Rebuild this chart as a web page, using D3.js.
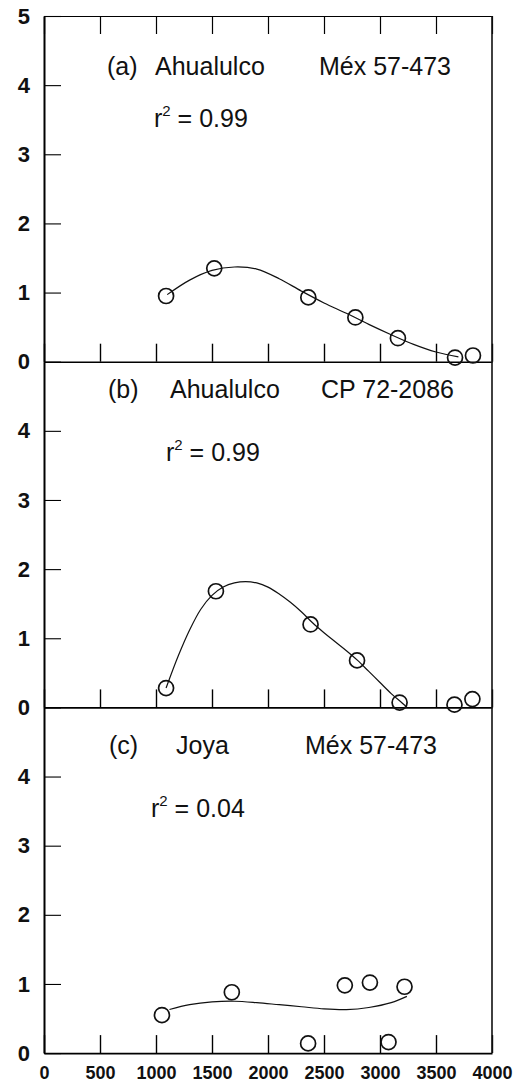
<!DOCTYPE html>
<html>
<head>
<meta charset="utf-8">
<script src="https://cdn.jsdelivr.net/npm/d3@7"></script>
<style>
  body { margin: 0; background: #fff; }
  text { font-family: "Liberation Sans", Arial, sans-serif; fill: #111; }
</style>
</head>
<body>
<script>
// elevation (m) on x, value on y, one set per panel
var xTicks = [0, 500, 1000, 1500, 2000, 2500, 3000, 3500, 4000];

var aX = [1090, 1520, 2360, 2780, 3160, 3670, 3830];
var aY = [0.95, 1.35, 0.93, 0.64, 0.34, 0.06, 0.09];
var aFitX = [1100, 1300, 1500, 1700, 1900, 2100, 2300, 2500, 2700, 2900, 3100, 3300, 3500, 3700];
var aFitY = [0.97, 1.18, 1.32, 1.37, 1.34, 1.2, 1.02, 0.85, 0.7, 0.54, 0.39, 0.25, 0.14, 0.07];

var bX = [1090, 1535, 2380, 2795, 3175, 3665, 3825];
var bY = [0.28, 1.68, 1.2, 0.68, 0.07, 0.04, 0.12];
var bFitX = [1090, 1200, 1300, 1400, 1500, 1600, 1700, 1800, 1900, 2000, 2100, 2200, 2300, 2400, 2500, 2600, 2700, 2800, 2900, 3000, 3100, 3200, 3240];
var bFitY = [0.28, 0.75, 1.12, 1.42, 1.62, 1.74, 1.8, 1.82, 1.8, 1.74, 1.64, 1.52, 1.38, 1.22, 1.08, 0.95, 0.82, 0.68, 0.52, 0.36, 0.2, 0.06, 0];

var cX = [1053, 1677, 2358, 2686, 2910, 3076, 3219];
var cY = [0.55, 0.88, 0.14, 0.98, 1.02, 0.16, 0.96];
var cFitX = [1120, 1300, 1500, 1700, 1900, 2100, 2300, 2500, 2700, 2900, 3100, 3240];
var cFitY = [0.63, 0.7, 0.74, 0.75, 0.73, 0.7, 0.67, 0.64, 0.63, 0.66, 0.73, 0.82];

var tags = ["(a)", "(b)", "(c)"];
var sites = ["Ahualulco", "Ahualulco", "Joya"];
var cultivars = ["Méx 57-473", "CP 72-2086", "Méx 57-473"];
var r2 = ["0.99", "0.99", "0.04"];

var w = 532, h = 1087;
var left = 44, right = 492, top0 = 16, ph = 345.7;

var svg = d3.select("body").append("svg")
            .attr("width", w)
            .attr("height", h);

var x = d3.scaleLinear().domain([0, 4000]).range([left, right]);

var panels = [
  {px: aX, py: aY, fx: aFitX, fy: aFitY, yt: [0, 1, 2, 3, 4, 5], t1: 59, t2: 111, xs: [107, 155, 319], rx: 154},
  {px: bX, py: bY, fx: bFitX, fy: bFitY, yt: [0, 1, 2, 3, 4], t1: 36, t2: 99, xs: [108, 170, 321], rx: 166},
  {px: cX, py: cY, fx: cFitX, fy: cFitY, yt: [0, 1, 2, 3, 4], t1: 47, t2: 110, xs: [109, 176, 305], rx: 151}
];

panels.forEach(function(p, i) {
  var top = top0 + i * ph;
  var bottom = top + ph;
  var y = d3.scaleLinear().domain([0, 5]).range([bottom, top]);
  var g = svg.append("g");

  // left axis, ticks pointing in
  var ya = g.append("g")
            .attr("transform", "translate(" + left + ",0)")
            .call(d3.axisLeft(y).tickValues(p.yt).tickFormat(d3.format("d"))
                    .tickSize(-17).tickSizeOuter(0).tickPadding(14));
  ya.select(".domain").attr("stroke-width", 2);
  ya.selectAll(".tick line").attr("stroke-width", 1.1);
  ya.selectAll("text").attr("font-size", 22).attr("font-weight", "bold")
    .style("font-family", "Liberation Sans, Arial, sans-serif");

  // bottom axis, ticks pointing up
  var xa = g.append("g")
            .attr("transform", "translate(0," + bottom + ")")
            .call(d3.axisBottom(x).tickValues(xTicks).tickFormat(d3.format("d"))
                    .tickSize(-18).tickSizeOuter(0).tickPadding(13));
  xa.select(".domain").attr("stroke-width", 1.6);
  xa.selectAll(".tick line").attr("stroke-width", 1.4);
  if (i < 2) {
    xa.selectAll("text").remove();
  } else {
    xa.selectAll("text").attr("font-size", 18).attr("font-weight", "bold")
      .style("font-family", "Liberation Sans, Arial, sans-serif");
  }

  // top ticks on the first panel
  if (i === 0) {
    var ta = g.append("g")
              .attr("transform", "translate(0," + top + ")")
              .call(d3.axisTop(x).tickValues(xTicks).tickSize(-18).tickSizeOuter(0).tickFormat(""));
    ta.select(".domain").attr("stroke-width", 1.2);
    ta.selectAll(".tick line").attr("stroke-width", 1.2);
  }

  // fitted curve
  var fit = p.fx.map(function(d, k) { return [d, p.fy[k]]; });
  g.append("path")
   .datum(fit)
   .attr("d", d3.line()
                .x(function(d) { return x(d[0]); })
                .y(function(d) { return y(d[1]); })
                .curve(d3.curveCatmullRom))
   .attr("fill", "none")
   .attr("stroke", "#111")
   .attr("stroke-width", 1.2);

  // observed points
  var pts = p.px.map(function(d, k) { return [d, p.py[k]]; });
  g.selectAll("circle")
   .data(pts)
   .enter()
   .append("circle")
   .attr("cx", function(d) { return x(d[0]); })
   .attr("cy", function(d) { return y(d[1]); })
   .attr("r", 7.5)
   .attr("fill", "none")
   .attr("stroke", "#111")
   .attr("stroke-width", 1.7);

  // annotations
  var t = g.append("g").attr("font-size", 25);
  t.append("text").attr("x", p.xs[0]).attr("y", top + p.t1).text(tags[i]);
  t.append("text").attr("x", p.xs[1]).attr("y", top + p.t1).text(sites[i]);
  t.append("text").attr("x", p.xs[2]).attr("y", top + p.t1).text(cultivars[i]);
  var r = t.append("text").attr("x", p.rx).attr("y", top + p.t2);
  r.append("tspan").text("r");
  r.append("tspan").attr("font-size", 15).attr("dy", -11).text("2");
  r.append("tspan").attr("dy", 11).text(" = " + r2[i]);
});

// right frame
svg.append("line")
   .attr("x1", right).attr("x2", right)
   .attr("y1", top0).attr("y2", top0 + 3 * ph)
   .attr("stroke", "#111")
   .attr("stroke-width", 1.6);
</script>
</body>
</html>
